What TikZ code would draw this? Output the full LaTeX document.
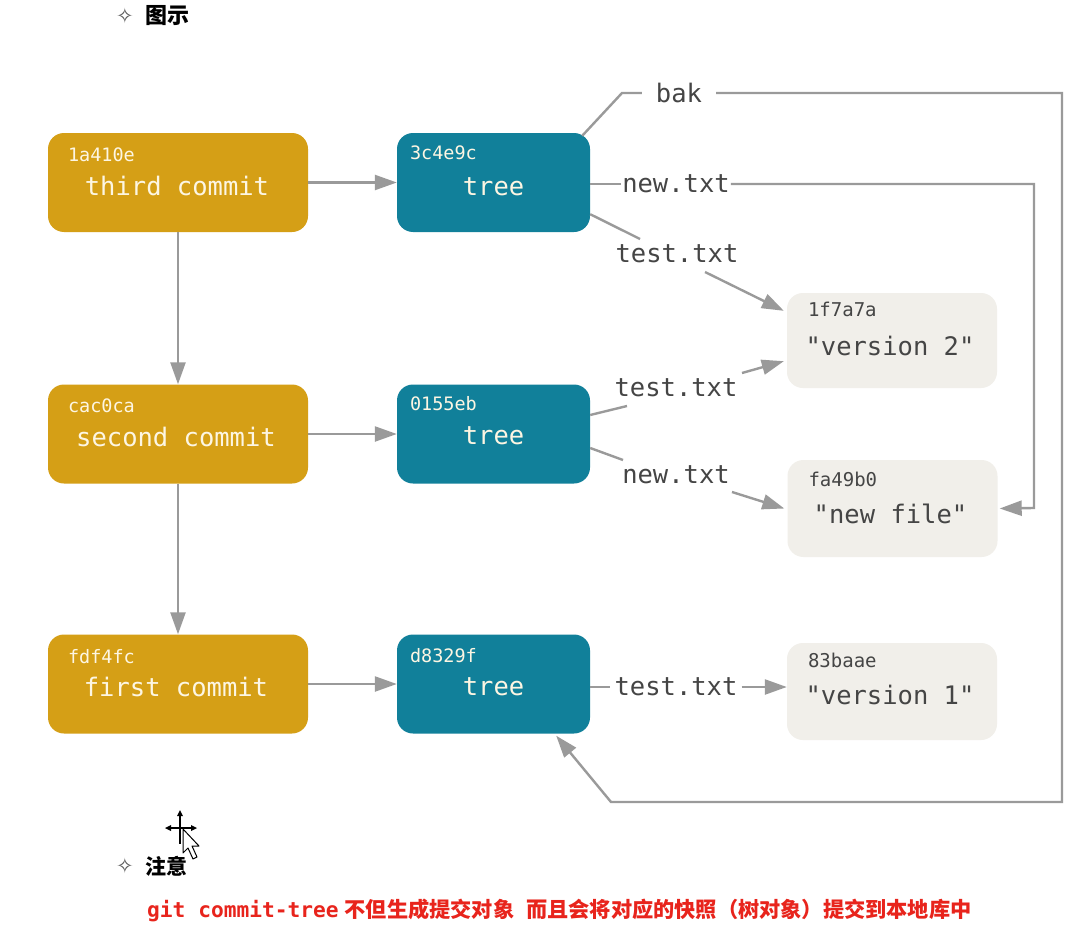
\documentclass[tikz,border=0pt]{standalone}
\usepackage{fontspec}
\usetikzlibrary{arrows.meta,calc}
\newfontfamily\dmono{DejaVu Sans Mono}
\newfontfamily\dsym{DejaVu Sans}
\newfontfamily\cjk{Noto Sans CJK SC}
\definecolor{commitc}{HTML}{D59F16}
\definecolor{treec}{HTML}{11809A}
\definecolor{blobc}{HTML}{F1EFEA}
\definecolor{linec}{HTML}{9A9A9A}
\definecolor{labc}{HTML}{454545}
\definecolor{lightc}{HTML}{FDF6E3}
\definecolor{redc}{HTML}{E8241C}
\begin{document}
\begin{tikzpicture}[x=1pt,y=-1pt,
  commitbox/.style={draw=none,fill=commitc,rounded corners=16pt,minimum width=260pt,minimum height=99pt,inner sep=0pt},
  treebox/.style={draw=none,fill=treec,rounded corners=16pt,minimum width=193pt,minimum height=99pt,inner sep=0pt},
  blobbox/.style={draw=none,fill=blobc,rounded corners=16pt,minimum width=210pt,minimum height=96pt,inner sep=0pt},
  hashw/.style={font=\dmono\fontsize{18.5}{20}\selectfont,text=lightc,anchor=west,inner sep=0pt},
  hashd/.style={font=\dmono\fontsize{19}{20}\selectfont,text=labc,anchor=west,inner sep=0pt},
  mainw/.style={font=\dmono\fontsize{25.5}{28}\selectfont,text=lightc,inner sep=0pt},
  maind/.style={font=\dmono\fontsize{25.5}{28}\selectfont,text=labc,inner sep=0pt},
  lab/.style={font=\dmono\fontsize{25.5}{28}\selectfont,text=labc,inner xsep=4pt,inner ysep=2pt},
  conn/.style={draw=linec,line width=2.4pt},
  arr/.style={conn,-{Triangle[length=22pt,width=15pt]}},
  head/.style={font=\cjk\bfseries\fontsize{22}{24}\selectfont,text=black,anchor=west,inner sep=0pt},
  star/.style={font=\dsym\fontsize{21}{23}\selectfont,text=black!65,inner sep=0pt}
]
\useasboundingbox[fill=white] (0,0) rectangle (1088,926);

% headings
\node[star] (st1) at (125,16) {✧};
\node[head] (hd1) at (145,16) {图示};

% commits
\node[commitbox] (c3) at (178,182.5) {};
\node[commitbox] (c2) at (178,434) {};
\node[commitbox] (c1) at (178,684) {};
% trees
\node[treebox] (t3) at (493.5,182.5) {};
\node[treebox] (t2) at (493.5,434) {};
\node[treebox] (t1) at (493.5,684) {};
% blobs
\node[blobbox,minimum height=95pt] (b1) at (892,340.5) {};
\node[blobbox,minimum height=97pt] (b2) at (892.5,508.5) {};
\node[blobbox,minimum height=97pt] (b3) at (892,691.5) {};

% texts in commits
\node[hashw] (h3) at ($(c3.north west)+(20,22)$) {1a410e};
\node[mainw] (m3) at ($(c3.center)+(-1,3)$) {third commit};
\node[hashw] (h2) at ($(c2.north west)+(20,21)$) {cac0ca};
\node[mainw] (m2) at ($(c2.center)+(-2,3)$) {second commit};
\node[hashw] (h1) at ($(c1.north west)+(20,22)$) {fdf4fc};
\node[mainw] (m1) at ($(c1.center)+(-2,3)$) {first commit};
% texts in trees
\node[hashw] (th3) at ($(t3.north west)+(13,20)$) {3c4e9c};
\node[mainw] (tm3) at ($(t3.center)+(0,4)$) {tree};
\node[hashw] (th2) at ($(t2.north west)+(13,19)$) {0155eb};
\node[mainw] (tm2) at ($(t2.center)+(0,2)$) {tree};
\node[hashw] (th1) at ($(t1.north west)+(13,21)$) {d8329f};
\node[mainw] (tm1) at ($(t1.center)+(0,3)$) {tree};
% texts in blobs
\node[hashd] (bh1) at ($(b1.north west)+(21,17)$) {1f7a7a};
\node[maind] (bm1) at ($(b1.center)+(-2,5)$) {"version 2"};
\node[hashd] (bh2) at ($(b2.north west)+(21,20)$) {fa49b0};
\node[maind] (bm2) at ($(b2.center)+(-2,5)$) {"new file"};
\node[hashd] (bh3) at ($(b3.north west)+(21,18)$) {83baae};
\node[maind] (bm3) at ($(b3.center)+(-2,3)$) {"version 1"};

% edge labels
\node[lab,inner xsep=14pt] (bak) at (679,93) {bak};
\node[lab,inner xsep=1pt] (n3) at (676,184) {new.txt};
\node[lab] (s3) at (677,254) {test.txt};
\node[lab] (s2) at (676,388) {test.txt};
\node[lab] (n2) at (676,475) {new.txt};
\node[lab] (s1) at (676,687) {test.txt};

% commit chain
\draw[arr] (c3.south) -- (c2.north);
\draw[arr] (c2.south) -- (c1.north);
\draw[arr] (c3.east) -- (t3.west);
\draw[arr] (c2.east) -- (t2.west);
\draw[arr] (c1.east) -- (t1.west);

% bak route
\coordinate (bk1) at (622,93);
\coordinate (bk2) at (1062,93);
\coordinate (bk3) at (1062,802);
\coordinate (bk4) at (611,802);
\draw[conn] ($(t3.north east)+(-8,3)$) -- (bk1) -- (bak.west);
\draw[arr] (bak.east) -- (bk2) -- (bk3) -- (bk4) -- ($(t1.south east)+(-34,2)$);

% new.txt from t3
\coordinate (nw1) at (1034,184);
\coordinate (nw2) at (1034,508);
\draw[conn] (t3.east |- n3.west) -- (n3.west);
\draw[arr] (n3.east) -- (nw1) -- (nw2) -- ($(b2.east)+(2,0)$);

% test.txt from t3
\coordinate (p1) at (640,239);
\coordinate (p2) at (705,272);
\draw[conn] ($(t3.south east)+(0,-18)$) -- (p1);
\draw[arr] (p2) -- ($(b1.north west)+(-3,18)$);

% test.txt from t2
\coordinate (q1) at (627,406);
\coordinate (q2) at (742,373);
\draw[conn] ($(t2.east)+(0,-19)$) -- (q1);
\draw[arr] (q2) -- ($(b1.south west)+(-3,-27)$);

% new.txt from t2
\coordinate (r1) at (623,460);
\coordinate (r2) at (732,492);
\draw[conn] ($(t2.east)+(0,14)$) -- (r1);
\draw[arr] (r2) -- ($(b2.west)+(-3,0)$);

% test.txt from t1
\draw[conn] (t1.east |- s1.west) -- (s1.west);
\draw[arr] (s1.east) -- (b3.west |- s1.east);

% cursor
\draw[line width=1.4pt] (180,812) -- (180,844);
\draw[line width=1.4pt] (167,828) -- (195,828);
\fill (180,810) -- (177,816) -- (183,816) -- cycle;
\fill (165,828) -- (171,825) -- (171,831) -- cycle;
\fill (197,828) -- (191,825) -- (191,831) -- cycle;
\draw[fill=white,line width=1pt,line join=round] (183,829) -- (183,853) -- (188,848) -- (193,859) -- (197,857) -- (192,846) -- (199,846) -- cycle;

% note heading
\node[star] (st2) at (125,866) {✧};
\node[head,font=\cjk\bfseries\fontsize{21}{23}\selectfont] (hd2) at (145,866) {注意};

% red note
\node[anchor=west,inner sep=0pt,text=redc] (note) at (147,910)
  {{\dmono\bfseries\fontsize{21.2}{23}\selectfont git commit-tree}\hspace{6pt}{\cjk\bfseries\fontsize{21.2}{23}\selectfont 不但生成提交对象\hspace{12pt}而且会将对应的快照（树对象）提交到本地库中}};
\end{tikzpicture}
\end{document}
